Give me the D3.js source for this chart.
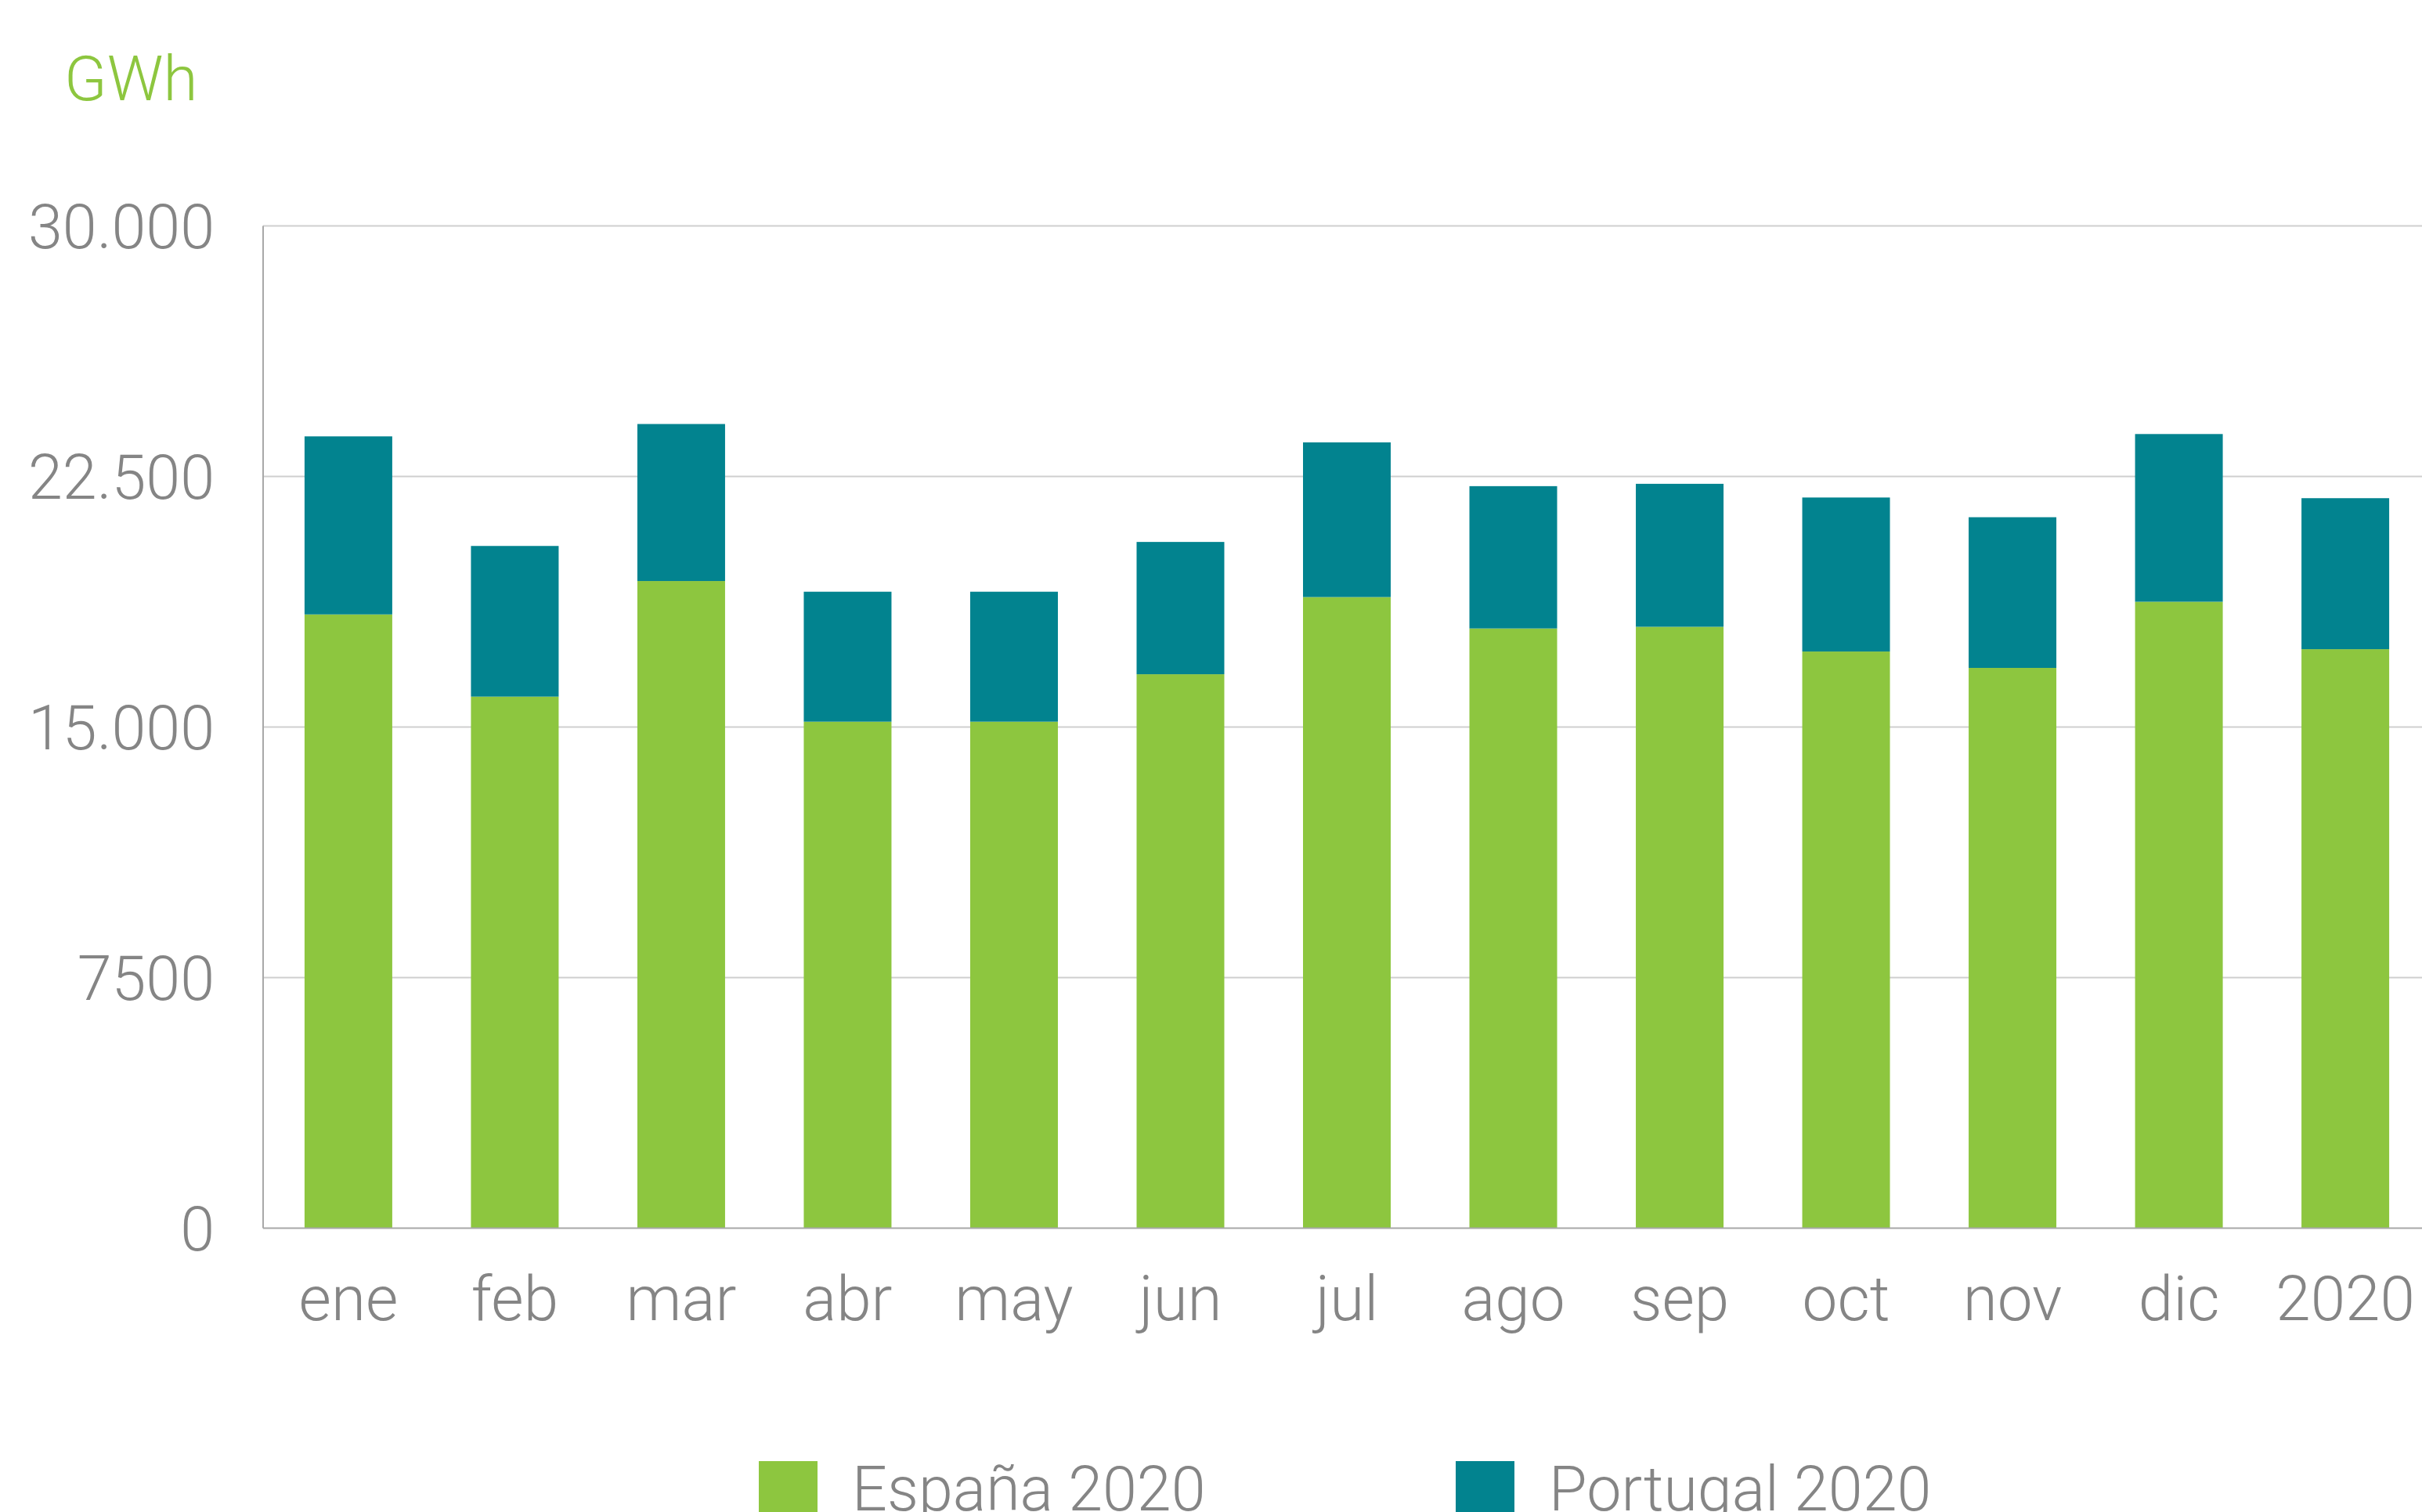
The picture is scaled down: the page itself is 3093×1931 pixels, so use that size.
<!DOCTYPE html>
<html>
<head>
<meta charset="utf-8">
<script src="https://cdn.jsdelivr.net/npm/d3@7"></script>
<style>
  html, body { margin: 0; padding: 0; background: #ffffff; overflow: hidden; }
  svg { display: block; }
  text { font-family: Roboto, "Noto Sans", sans-serif; font-weight: 300; }
</style>
</head>
<body>
<svg id="chart" width="3093" height="1931"></svg>
<script>
// ---- data ----
const categories = ["ene", "feb", "mar", "abr", "may", "jun", "jul", "ago", "sep", "oct", "nov", "dic", "2020"];
const espana   = [18370, 15910, 19370, 15160, 15160, 16580, 18890, 17950, 18000, 17260, 16770, 18750, 17330];
const portugal = [ 5330,  4510,  4700,  3890,  3890,  3960,  4630,  4260,  4280,  4610,  4510,  5020,  4520];
const seriesNames = ["España 2020", "Portugal 2020"];
const tickValues = [0, 7500, 15000, 22500, 30000];
const tickLabels = ["0", "7500", "15.000", "22.500", "30.000"];
const unitLabel = "GWh";

// ---- layout ----
const W = 3093, H = 1931;
const plot = { left: 336, right: 3104, top: 288.5, bottom: 1568.5 };
const colors = ["#8DC63F", "#02838F"];
const textGray = "#858585";

const svg = d3.select("#chart");

const x = d3.scaleBand()
  .domain(categories)
  .range([plot.left, plot.right])
  .paddingInner(0.473)
  .paddingOuter(0.249);

const y = d3.scaleLinear()
  .domain([0, 30000])
  .range([plot.bottom, plot.top]);

// gridlines
svg.append("g")
  .selectAll("line")
  .data(tickValues.filter(v => v > 0))
  .join("line")
  .attr("x1", plot.left).attr("x2", W)
  .attr("y1", d => y(d)).attr("y2", d => y(d))
  .attr("stroke", "#cfcfcf").attr("stroke-width", 2);

// stacked data
const rows = categories.map((c, i) => ({ cat: c, es: espana[i], pt: portugal[i] }));
const stack = d3.stack().keys(["es", "pt"]);
const layers = stack(rows);

svg.append("g")
  .selectAll("g")
  .data(layers)
  .join("g")
  .attr("fill", (d, i) => colors[i])
  .selectAll("rect")
  .data(d => d)
  .join("rect")
  .attr("x", d => x(d.data.cat))
  .attr("width", x.bandwidth())
  .attr("y", d => y(d[1]))
  .attr("height", d => y(d[0]) - y(d[1]));

// left axis line and baseline
svg.append("line")
  .attr("x1", plot.left).attr("x2", plot.left)
  .attr("y1", plot.top).attr("y2", plot.bottom)
  .attr("stroke", "#a8a8a8").attr("stroke-width", 2);
svg.append("line")
  .attr("x1", plot.left).attr("x2", W)
  .attr("y1", plot.bottom).attr("y2", plot.bottom)
  .attr("stroke", "#a8a8a8").attr("stroke-width", 2);

// y axis labels
const yAxis = d3.axisLeft(y)
  .tickValues(tickValues)
  .tickFormat((d, i) => tickLabels[i])
  .tickSize(0)
  .tickPadding(62);
const gy = svg.append("g").attr("transform", `translate(${plot.left},0)`).call(yAxis);
gy.select(".domain").remove();
gy.selectAll("text")
  .attr("fill", textGray)
  .style("font-size", "79px")
  .style("font-family", "Roboto, sans-serif")
  .style("font-weight", 300)
  .attr("dy", "0.36em");

// x axis labels
const xAxis = d3.axisBottom(x).tickSize(0).tickPadding(0);
const gx = svg.append("g").attr("transform", `translate(0,${plot.bottom})`).call(xAxis);
gx.select(".domain").remove();
gx.selectAll("text")
  .attr("fill", textGray)
  .style("font-size", "80px")
  .style("font-family", "Roboto, sans-serif")
  .style("font-weight", 300)
  .attr("y", 117)
  .attr("dy", 0);

// unit label
svg.append("text")
  .attr("x", 82).attr("y", 128)
  .attr("fill", "#8DC63F")
  .style("font-size", "80px")
  .text(unitLabel);

// legend
const legendX = [969, 1859];
const lg = svg.append("g");
seriesNames.forEach((name, i) => {
  lg.append("rect")
    .attr("x", legendX[i]).attr("y", 1866)
    .attr("width", 75).attr("height", 75)
    .attr("fill", colors[i]);
  lg.append("text")
    .attr("x", legendX[i] + 119).attr("y", 1929)
    .attr("fill", textGray)
    .style("font-size", "79px")
    .text(name);
});
</script>
</body>
</html>
